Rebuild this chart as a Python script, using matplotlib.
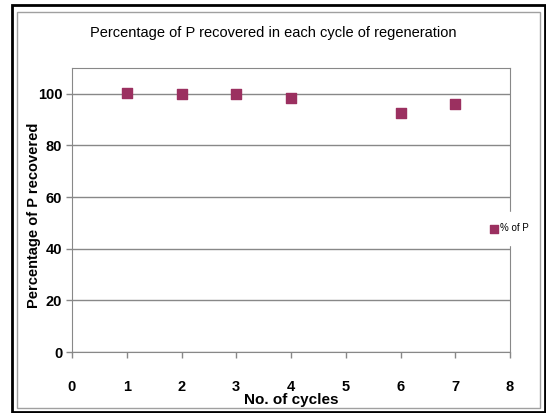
import matplotlib.pyplot as plt
from matplotlib.patches import Rectangle

# data
cycles = [1, 2, 3, 4, 6, 7]
pct_p = [100.3, 100.0, 99.9, 98.2, 92.5, 96.1]
series_name = "% of P"

W, H = 546, 413
fig = plt.figure(figsize=(W / 100, H / 100), dpi=100)
plt.rcParams['font.family'] = ['Liberation Sans', 'DejaVu Sans']

# outer black frame and inner grey chart border
fig.patches.append(Rectangle((12 / W, 1 - 412 / H), 533 / W, 407 / H, transform=fig.transFigure,
                             fill=False, edgecolor='black', linewidth=2))
fig.patches.append(Rectangle((17 / W, 1 - 408 / H), 523 / W, 396 / H, transform=fig.transFigure,
                             fill=False, edgecolor='#a0a0a0', linewidth=1))

ax = fig.add_axes([72 / W, 1 - 352 / H, (510 - 72) / W, (352 - 68) / H])
ax.scatter(cycles, pct_p, marker='s', s=55, color='#9b3060', label=series_name, zorder=3)

ax.set_xlim(0, 8)
ax.set_ylim(0, 110)
ax.set_xticks(range(0, 9))
ax.set_yticks(range(0, 101, 20))
ax.yaxis.grid(True, color='#888888', linewidth=1)
ax.set_axisbelow(True)
for s in ax.spines.values():
    s.set_color('#888888')
ax.tick_params(axis='both', colors='#888888', labelcolor='black', length=4, width=1,
               direction='out')
ax.tick_params(axis='x', pad=16)
ax.tick_params(axis='y', pad=3)
for lab in ax.get_xticklabels() + ax.get_yticklabels():
    lab.set_fontweight('bold')
    lab.set_fontsize(10.5)

ax.set_xlabel("No. of cycles", fontsize=11, fontweight='bold')
ax.xaxis.set_label_coords(0.5, -0.145)
ax.set_ylabel("Percentage of P recovered", fontsize=10.5, fontweight='bold')
ax.yaxis.set_label_coords(-0.07, 0.48)
fig.text(0.5, 1 - 33 / H, "Percentage of P recovered in each cycle of regeneration",
         ha='center', va='center', fontsize=10.5)

leg = ax.legend(loc='center left', bbox_to_anchor=(0.92, 0.435), frameon=True, fontsize=7,
                handlelength=0.6, handletextpad=0.3, borderpad=1.2, markerscale=0.8,
                framealpha=1)
leg.get_frame().set_edgecolor('white')
leg.get_frame().set_facecolor('white')
leg.set_zorder(5)

fig.savefig("out.png", dpi=100)
